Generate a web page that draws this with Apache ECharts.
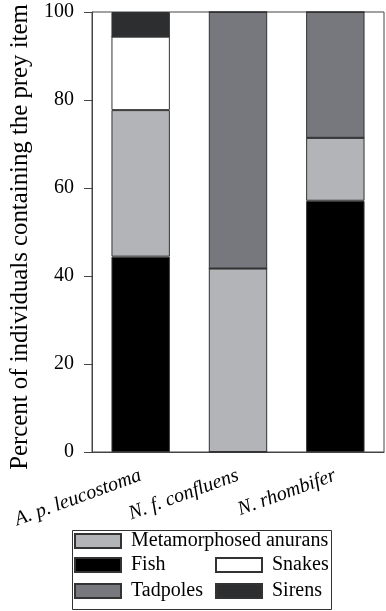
<!DOCTYPE html>
<html><head><meta charset="utf-8">
<script src="https://cdn.jsdelivr.net/npm/echarts@6/dist/echarts.min.js"></script>
<style>html,body{margin:0;padding:0;background:#fff}#c{width:386px;height:611px}</style>
</head><body><div id="c"></div>
<script>
const categories = ['A. p. leucostoma', 'N. f. confluens', 'N. rhombifer'];
const fish = [44.4, 0, 57.1];
const metamorphosed = [33.3, 41.7, 14.3];
const snakes = [16.7, 0, 0];
const tadpoles = [0, 58.3, 28.6];
const sirens = [5.6, 0, 0];
const yTicks = [0, 20, 40, 60, 80, 100];

const FONT = 'Liberation Serif';
const chart = echarts.init(document.getElementById('c'), null, {renderer: 'canvas'});
function s(name, data, color) {
  return {name, type: 'bar', stack: 'all', data, barWidth: '60%',
    itemStyle: {color, borderColor: '#333', borderWidth: 1}};
}
const legText = {fontFamily: FONT, fontSize: 20, color: '#000', lineHeight: 20, padding: [0, 0, 0, 5]};
chart.setOption({
  animation: false,
  grid: {left: 92, right: 2, top: 12, bottom: 159, show: true, borderColor: '#444', borderWidth: 1,
    containLabel: false, outerBoundsMode: 'none'},
  xAxis: {type: 'category', data: categories,
    axisLine: {lineStyle: {color: '#444'}},
    axisTick: {alignWithLabel: true, length: 6, lineStyle: {color: '#444'}},
    axisLabel: {rotate: 20, margin: 23, fontFamily: FONT, fontStyle: 'italic', fontSize: 20, color: '#000', interval: 0}},
  yAxis: {type: 'value', min: 0, max: 100, interval: 20,
    name: 'Percent of individuals containing the prey item', nameLocation: 'middle', nameGap: 56,
    nameTextStyle: {fontFamily: FONT, fontSize: 24.8, color: '#000', padding: [0, 10, 0, 0]},
    axisLine: {show: true, lineStyle: {color: '#444'}},
    axisTick: {show: true, length: 8, lineStyle: {color: '#444'}},
    splitLine: {show: false},
    axisLabel: {margin: 18, fontFamily: FONT, fontSize: 20, color: '#000',
      formatter: v => yTicks.includes(v) ? String(v) : ''}},
  legend: [
    {data: ['Metamorphosed anurans'], left: 74, top: 531, orient: 'vertical', itemWidth: 46, itemHeight: 14, icon: 'rect', textStyle: legText, padding: 0, selectedMode: false},
    {data: ['Fish', 'Tadpoles'], left: 74, top: 555, orient: 'vertical', itemGap: 6, itemWidth: 46, itemHeight: 14, icon: 'rect', textStyle: legText, padding: 0, selectedMode: false},
    {data: ['Snakes', 'Sirens'], left: 215, top: 555, orient: 'vertical', itemGap: 6, itemWidth: 46, itemHeight: 14, icon: 'rect', textStyle: legText, padding: 0, selectedMode: false}
  ],
  graphic: [{type: 'rect', left: 70, top: 528, shape: {width: 259, height: 79}, style: {fill: 'none', stroke: '#333', lineWidth: 1}}],
  series: [
    s('Fish', fish, '#000000'),
    s('Metamorphosed anurans', metamorphosed, '#b3b4b7'),
    s('Snakes', snakes, '#ffffff'),
    s('Tadpoles', tadpoles, '#76787e'),
    s('Sirens', sirens, '#2d2e30')
  ]
});
</script></body></html>
